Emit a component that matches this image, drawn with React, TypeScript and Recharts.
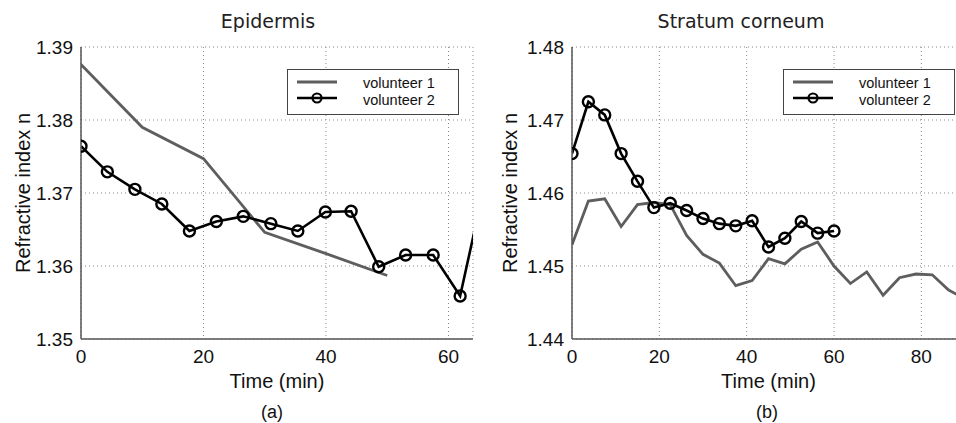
import { LineChart, Line, XAxis, YAxis, CartesianGrid } from "recharts"

// Epidermis (a)
const epiTime1 = [0, 10, 20, 30, 40, 50]
const epiVol1 = [1.3876, 1.379, 1.3747, 1.3646, 1.3617, 1.3587]
const epiTime2 = [0, 4.3, 8.8, 13.2, 17.7, 22.1, 26.5, 31.0, 35.4, 39.9, 44.1, 48.6, 53.0, 57.5, 61.9, 66.4]
const epiVol2 = [1.3764, 1.3729, 1.3705, 1.3685, 1.3648, 1.3661, 1.3668, 1.3658, 1.3648, 1.3674, 1.3675, 1.3599, 1.3615, 1.3615, 1.3559, 1.373]

// Stratum corneum (b)
const scTime1 = [0, 3.75, 7.5, 11.25, 15, 18.75, 22.5, 26.25, 30, 33.75, 37.5, 41.25, 45, 48.75, 52.5, 56.25, 60, 63.75, 67.5, 71.25, 75, 78.75, 82.5, 86.25, 90]
const scVol1 = [1.4529, 1.4589, 1.4592, 1.4554, 1.4584, 1.4587, 1.4584, 1.4542, 1.4516, 1.4504, 1.4473, 1.448, 1.451, 1.4503, 1.4523, 1.4533, 1.45, 1.4476, 1.4492, 1.446, 1.4484, 1.4489, 1.4488, 1.4467, 1.4455]
const scTime2 = [0, 3.75, 7.5, 11.25, 15, 18.75, 22.5, 26.25, 30, 33.75, 37.5, 41.25, 45, 48.75, 52.5, 56.25, 60]
const scVol2 = [1.4654, 1.4725, 1.4707, 1.4654, 1.4616, 1.458, 1.4586, 1.4576, 1.4565, 1.4558, 1.4555, 1.4562, 1.4526, 1.4538, 1.4561, 1.4545, 1.4548]

const seriesNames = ["volunteer 1", "volunteer 2"]
const epiXTicks = [0, 20, 40, 60]
const epiYTicks = [1.35, 1.36, 1.37, 1.38, 1.39]
const scXTicks = [0, 20, 40, 60, 80]
const scYTicks = [1.44, 1.45, 1.46, 1.47, 1.48]

const FONT = '"Liberation Sans", Arial, Helvetica, sans-serif'
const GRAY = "#5e5e5e"
const FRAME = "#555"

const toRows = (times: number[], values: number[]) => times.map((t, i) => ({ t, n: values[i] }))

function Panel({ left, width, yAxisWidth, labelOffset, xDomain, xTicks, yDomain, yTicks, s1, s2 }: any) {
  const tick = { fontSize: 19, fill: "#111", fontFamily: FONT }
  const frame = { stroke: FRAME, strokeWidth: 1.5 }
  return (
    <div style={{ position: "absolute", left, top: 0 }}>
      <LineChart width={width} height={423} margin={{ top: 47, right: 8, bottom: 49, left: 0 }}>
        <CartesianGrid stroke="#8a8a8a" strokeDasharray="1 3" />
        <XAxis
          type="number"
          dataKey="t"
          domain={xDomain}
          ticks={xTicks}
          allowDataOverflow
          height={35}
          tickSize={0}
          tickMargin={11}
          axisLine={frame}
          tick={tick}
          label={{ value: "Time (min)", position: "bottom", offset: 0, style: { fontSize: 20, fill: "#111", fontFamily: FONT } }}
        />
        <XAxis xAxisId="top" orientation="top" type="number" domain={xDomain} allowDataOverflow height={0} tick={false} tickLine={false} axisLine={frame} />
        <YAxis
          type="number"
          domain={yDomain}
          ticks={yTicks}
          allowDataOverflow
          width={yAxisWidth}
          tickSize={0}
          tickMargin={8}
          axisLine={frame}
          tick={tick}
          tickFormatter={(v: number) => v.toFixed(2)}
          label={{
            value: "Refractive index n",
            angle: -90,
            position: "insideLeft",
            offset: labelOffset,
            style: { textAnchor: "middle", fontSize: 20, fill: "#111", fontFamily: FONT },
          }}
        />
        <YAxis yAxisId="right" orientation="right" type="number" domain={yDomain} width={0} tick={false} tickLine={false} axisLine={frame} />
        <Line data={s1} dataKey="n" name={seriesNames[0]} stroke={GRAY} strokeWidth={2.8} dot={false} isAnimationActive={false} />
        <Line
          data={s2}
          dataKey="n"
          name={seriesNames[1]}
          stroke="#000"
          strokeWidth={2.6}
          dot={{ r: 5.5, fill: "none", stroke: "#000", strokeWidth: 2.4 }}
          isAnimationActive={false}
        />
      </LineChart>
    </div>
  )
}

function LegendBox({ left }: { left: number }) {
  const txt = { fontSize: 14.5, fill: "#111", fontFamily: FONT }
  return (
    <svg style={{ position: "absolute", left, top: 69 }} width={172} height={46}>
      <rect x={0.5} y={0.5} width={171} height={45} fill="#fff" stroke="#444" />
      <line x1={10} x2={50} y1={13} y2={13} stroke={GRAY} strokeWidth={2.8} />
      <text x={76} y={19} {...txt}>{seriesNames[0]}</text>
      <line x1={10} x2={50} y1={29} y2={29} stroke="#000" strokeWidth={2.6} />
      <circle cx={30} cy={29} r={4.5} fill="none" stroke="#000" strokeWidth={2.2} />
      <text x={76} y={36} {...txt}>{seriesNames[1]}</text>
    </svg>
  )
}

export default function App() {
  return (
    <div style={{ position: "absolute", left: 0, top: 0, width: 956, height: 423, overflow: "hidden", background: "#fff" }}>
      <Panel
        left={0}
        width={481}
        yAxisWidth={81}
        labelOffset={23}
        xDomain={[0, 64]}
        xTicks={epiXTicks}
        yDomain={[1.35, 1.39]}
        yTicks={epiYTicks}
        s1={toRows(epiTime1, epiVol1)}
        s2={toRows(epiTime2, epiVol2)}
      />
      <Panel
        left={486}
        width={487}
        yAxisWidth={86}
        labelOffset={24}
        xDomain={[0, 90]}
        xTicks={scXTicks}
        yDomain={[1.44, 1.48]}
        yTicks={scYTicks}
        s1={toRows(scTime1, scVol1)}
        s2={toRows(scTime2, scVol2)}
      />
      <LegendBox left={287} />
      <LegendBox left={783} />
      <svg style={{ position: "absolute", left: 0, top: 0, pointerEvents: "none" }} width={956} height={423}>
        <g fontFamily='"DejaVu Sans", sans-serif' fontSize={19} fill="#222" textAnchor="middle">
          <text x={268} y={28}>Epidermis</text>
          <text x={741} y={28}>Stratum corneum</text>
        </g>
        <g fontFamily={FONT} fontSize={18} fill="#111" textAnchor="middle">
          <text x={272} y={418}>(a)</text>
          <text x={767} y={418}>(b)</text>
        </g>
      </svg>
    </div>
  )
}
